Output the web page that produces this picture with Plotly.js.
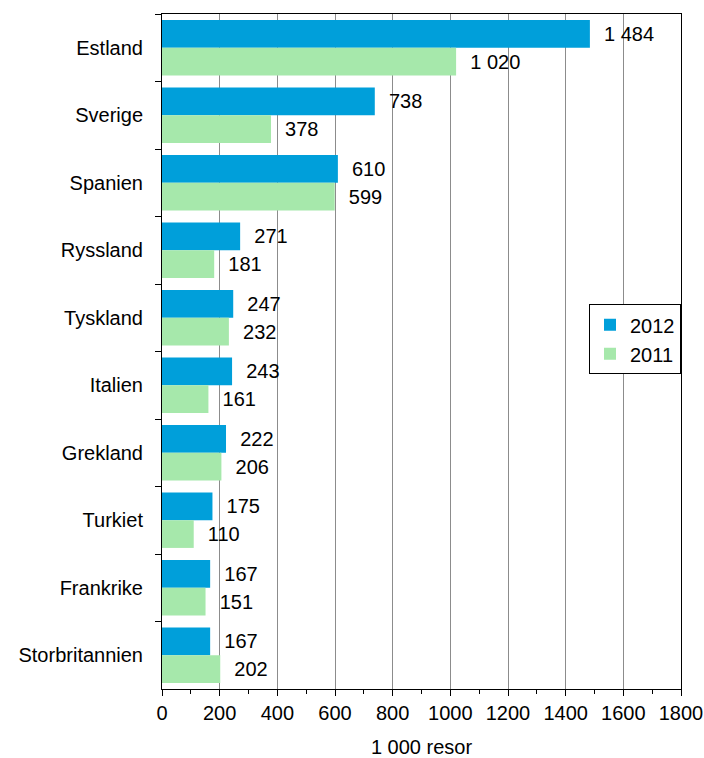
<!DOCTYPE html>
<html>
<head>
<meta charset="utf-8">
<script src="https://cdn.plot.ly/plotly-3.0.1.min.js"></script>
<style>html,body{margin:0;padding:0;background:#fff;}#chart{width:704px;height:758px;}</style>
</head>
<body>
<div id="chart"></div>
<script>
const countries = ["Estland","Sverige","Spanien","Ryssland","Tyskland","Italien","Grekland","Turkiet","Frankrike","Storbritannien"];
const values2012 = [1484,738,610,271,247,243,222,175,167,167];
const values2011 = [1020,378,599,181,232,161,206,110,151,202];
const seriesNames = ["2012","2011"];
const xTitle = "1 000 resor";

const font = {family: "Arial, 'Liberation Sans', sans-serif", size: 20, color: "#000"};

const traces = [
  {type:"bar", orientation:"h", name:seriesNames[0], y:countries, x:values2012,
   marker:{color:"#009fda"}, textposition:"outside", texttemplate:"\u00a0\u00a0%{x:,}",
   textfont:font, cliponaxis:false, hoverinfo:"skip"},
  {type:"bar", orientation:"h", name:seriesNames[1], y:countries, x:values2011,
   marker:{color:"#a6e8ab"}, textposition:"outside", texttemplate:"\u00a0\u00a0%{x:,}",
   textfont:font, cliponaxis:false, hoverinfo:"skip"}
];

const layout = {
  width:704, height:758,
  margin:{l:162, r:23, t:14, b:69},
  paper_bgcolor:"#fff", plot_bgcolor:"#fff",
  font:font,
  separators:", ",
  barmode:"group", bargap:0.18, bargroupgap:0,
  showlegend:true,
  legend:{x:1, xanchor:"right", y:0.57, yanchor:"top", bgcolor:"#fff",
          bordercolor:"#000", borderwidth:1, font:font, traceorder:"normal",
          itemwidth:30, tracegroupgap:0},
  xaxis:{range:[0,1800], dtick:200, tick0:0, showgrid:true, gridcolor:"#8c8c8c", gridwidth:1,
         showline:true, linecolor:"#000", linewidth:1, mirror:true,
         ticks:"outside", ticklen:6, tickcolor:"#000", zeroline:false,
         minor:{dtick:100, ticks:"outside", ticklen:4, tickcolor:"#000", showgrid:false},
         title:{text:xTitle, font:font, standoff:16}, tickfont:font, fixedrange:true},
  yaxis:{autorange:"reversed", type:"category", showline:true, linecolor:"#000", linewidth:1, mirror:true,
         ticks:"outside", ticklen:6, tickcolor:"#000", tickson:"boundaries", showgrid:false,
         tickfont:font, ticklabelstandoff:14, fixedrange:true}
};

Plotly.newPlot("chart", traces, layout, {displayModeBar:false, staticPlot:true});
</script>
</body>
</html>
